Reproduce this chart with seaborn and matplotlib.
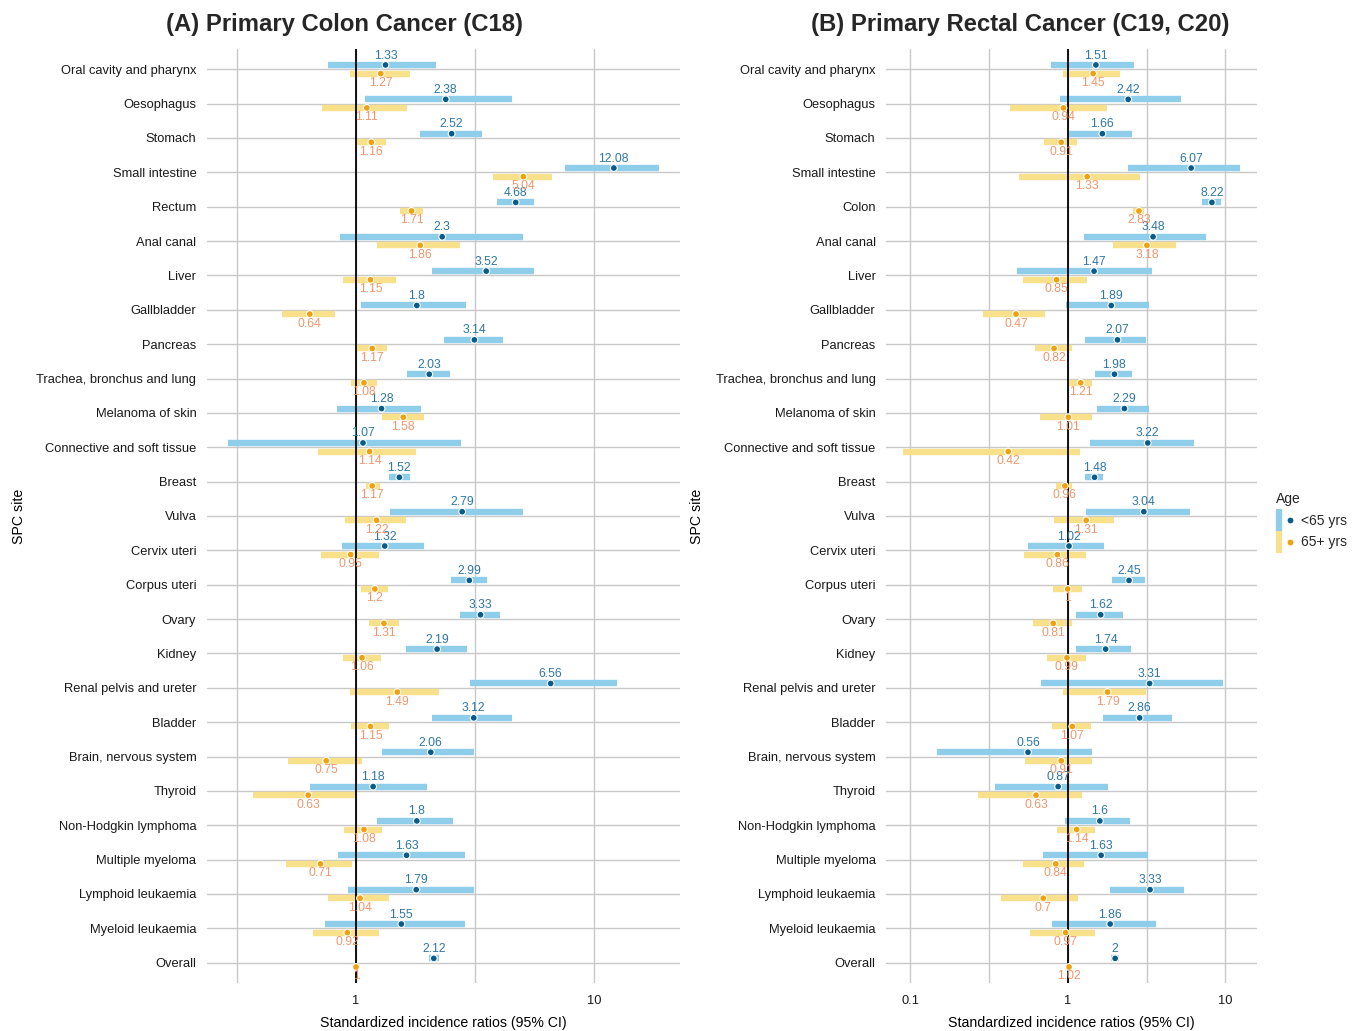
import numpy as np
import pandas as pd
import matplotlib
matplotlib.use('Agg')
import matplotlib.pyplot as plt
from matplotlib.lines import Line2D
from matplotlib.legend_handler import HandlerTuple
import seaborn as sns

# Sites (rows, top to bottom)
sites_colon = ['Oral cavity and pharynx', 'Oesophagus', 'Stomach', 'Small intestine', 'Rectum',
               'Anal canal', 'Liver', 'Gallbladder', 'Pancreas', 'Trachea, bronchus and lung',
               'Melanoma of skin', 'Connective and soft tissue', 'Breast', 'Vulva', 'Cervix uteri',
               'Corpus uteri', 'Ovary', 'Kidney', 'Renal pelvis and ureter', 'Bladder',
               'Brain, nervous system', 'Thyroid', 'Non-Hodgkin lymphoma', 'Multiple myeloma',
               'Lymphoid leukaemia', 'Myeloid leukaemia', 'Overall']
sites_rectal = ['Oral cavity and pharynx', 'Oesophagus', 'Stomach', 'Small intestine', 'Colon',
                'Anal canal', 'Liver', 'Gallbladder', 'Pancreas', 'Trachea, bronchus and lung',
                'Melanoma of skin', 'Connective and soft tissue', 'Breast', 'Vulva', 'Cervix uteri',
                'Corpus uteri', 'Ovary', 'Kidney', 'Renal pelvis and ureter', 'Bladder',
                'Brain, nervous system', 'Thyroid', 'Non-Hodgkin lymphoma', 'Multiple myeloma',
                'Lymphoid leukaemia', 'Myeloid leukaemia', 'Overall']

# (A) colon, <65 yrs
colon_young_sir = [1.33, 2.38, 2.52, 12.08, 4.68, 2.3, 3.52, 1.8, 3.14, 2.03, 1.28, 1.07, 1.52, 2.79,
                   1.32, 2.99, 3.33, 2.19, 6.56, 3.12, 2.06, 1.18, 1.8, 1.63, 1.79, 1.55, 2.12]
colon_young_lo = [0.76, 1.09, 1.85, 7.53, 3.90, 0.854, 2.09, 1.05, 2.34, 1.63, 0.83, 0.291, 1.37, 1.39,
                  0.871, 2.50, 2.74, 1.62, 3.00, 2.08, 1.29, 0.641, 1.23, 0.84, 0.923, 0.741, 2.03]
colon_young_hi = [2.16, 4.52, 3.37, 18.6, 5.60, 5.02, 5.58, 2.90, 4.15, 2.49, 1.88, 2.75, 1.69, 5.00,
                  1.93, 3.56, 4.04, 2.91, 12.5, 4.52, 3.12, 1.98, 2.55, 2.86, 3.12, 2.86, 2.22]
# (A) colon, 65+ yrs
colon_old_sir = [1.27, 1.11, 1.16, 5.04, 1.71, 1.86, 1.15, 0.64, 1.17, 1.08, 1.58, 1.14, 1.17, 1.22,
                 0.95, 1.2, 1.31, 1.06, 1.49, 1.15, 0.75, 0.63, 1.08, 0.71, 1.04, 0.92, 1]
colon_old_lo = [0.94, 0.72, 1.00, 3.76, 1.53, 1.23, 0.88, 0.49, 1.01, 0.95, 1.29, 0.69, 1.10, 0.90,
                0.71, 1.05, 1.13, 0.88, 0.94, 0.95, 0.52, 0.37, 0.89, 0.51, 0.76, 0.66, 0.98]
colon_old_hi = [1.68, 1.64, 1.33, 6.62, 1.91, 2.72, 1.47, 0.82, 1.35, 1.22, 1.92, 1.79, 1.26, 1.62,
                1.25, 1.36, 1.52, 1.27, 2.23, 1.37, 1.06, 0.99, 1.29, 0.96, 1.37, 1.25, 1.02]

# (B) rectal, <65 yrs
rectal_young_sir = [1.51, 2.42, 1.66, 6.07, 8.22, 3.48, 1.47, 1.89, 2.07, 1.98, 2.29, 3.22, 1.48, 3.04,
                    1.02, 2.45, 1.62, 1.74, 3.31, 2.86, 0.56, 0.87, 1.6, 1.63, 3.33, 1.86, 2]
rectal_young_lo = [0.78, 0.89, 1.00, 2.42, 7.14, 1.27, 0.48, 0.97, 1.29, 1.50, 1.53, 1.38, 1.29, 1.31,
                   0.56, 1.91, 1.13, 1.13, 0.68, 1.67, 0.149, 0.347, 0.96, 0.70, 1.85, 0.80, 1.89]
rectal_young_hi = [2.63, 5.25, 2.56, 12.4, 9.34, 7.54, 3.42, 3.28, 3.12, 2.56, 3.26, 6.32, 1.68, 5.97,
                   1.71, 3.08, 2.25, 2.53, 9.66, 4.59, 1.43, 1.79, 2.48, 3.22, 5.47, 3.65, 2.11]
# (B) rectal, 65+ yrs
rectal_old_sir = [1.45, 0.94, 0.91, 1.33, 2.83, 3.18, 0.85, 0.47, 0.82, 1.21, 1.01, 0.42, 0.96, 1.31,
                  0.86, 1, 0.81, 0.99, 1.79, 1.07, 0.91, 0.63, 1.14, 0.84, 0.7, 0.97, 1.02]
rectal_old_lo = [0.93, 0.43, 0.71, 0.49, 2.59, 1.93, 0.52, 0.29, 0.62, 1.00, 0.67, 0.09, 0.84, 0.82,
                 0.53, 0.81, 0.60, 0.74, 0.93, 0.79, 0.54, 0.27, 0.86, 0.52, 0.38, 0.58, 0.99]
rectal_old_hi = [2.15, 1.78, 1.15, 2.87, 3.06, 4.88, 1.32, 0.72, 1.06, 1.43, 1.43, 1.20, 1.07, 1.97,
                 1.31, 1.23, 1.07, 1.30, 3.12, 1.41, 1.43, 1.23, 1.49, 1.27, 1.16, 1.50, 1.05]

age_groups = ['<65 yrs', '65+ yrs']

# Style
bar_colors = {'<65 yrs': '#8FCEEB', '65+ yrs': '#F9E08A'}
dot_colors = {'<65 yrs': '#0A5A8A', '65+ yrs': '#F0A010'}
text_colors = {'<65 yrs': '#2E77A6', '65+ yrs': '#F0976E'}
offsets = {'<65 yrs': -0.125, '65+ yrs': 0.125}
label_offsets = {'<65 yrs': -0.40, '65+ yrs': 0.40}

sns.set_style('whitegrid')
plt.rcParams['font.family'] = ['Liberation Sans', 'DejaVu Sans']


def build_frame(sites, young, old):
    rows = []
    for age, (sir, lo, hi) in zip(age_groups, [young, old]):
        for i, site in enumerate(sites):
            rows.append({'site': site, 'row': i, 'age': age,
                         'sir': sir[i], 'lo': lo[i], 'hi': hi[i]})
    df = pd.DataFrame(rows)
    df['ypos'] = df['row'] + df['age'].map(offsets)
    return df


def draw_panel(ax, df, sites):
    # CI bars
    for age in age_groups:
        sub = df[df['age'] == age]
        ax.hlines(sub['ypos'], sub['lo'], sub['hi'], colors=bar_colors[age],
                  linewidth=4.6, capstyle='butt', zorder=2)
    ax.set_xscale('log')
    ax.axvline(1, color='black', linewidth=1.3, zorder=2.5)
    sns.scatterplot(data=df, x='sir', y='ypos', hue='age', palette=dot_colors,
                    s=24, edgecolor='white', linewidth=0.8, legend=False, ax=ax, zorder=3)
    # value labels
    for _, r in df.iterrows():
        ax.text(r['sir'], r['row'] + label_offsets[r['age']], f"{r['sir']:g}",
                ha='center', va='center', fontsize=8.7, color=text_colors[r['age']], zorder=4)

    ax.set_yticks(range(len(sites)))
    ax.set_yticklabels(sites)
    ax.set_ylim(len(sites) - 1 + 0.59, -0.59)
    ax.margins(x=0.05)

    ax.xaxis.set_major_locator(matplotlib.ticker.LogLocator(base=10, numticks=10))
    ax.xaxis.set_minor_locator(matplotlib.ticker.FixedLocator(10.0 ** np.array([-1.5, -0.5, 0.5, 1.5])))
    ax.xaxis.set_major_formatter(matplotlib.ticker.FuncFormatter(lambda v, p: f"{v:g}"))
    ax.xaxis.set_minor_formatter(matplotlib.ticker.NullFormatter())
    ax.grid(True, which='both', axis='x', color='#C8C8C8', linewidth=1.0)
    ax.grid(True, which='major', axis='y', color='#C8C8C8', linewidth=1.0)
    ax.set_axisbelow(True)
    ax.tick_params(axis='both', which='major', length=2.5, width=0.7, color='#C8C8C8',
                   labelsize=9.3, labelcolor='#1A1A1A')
    ax.tick_params(axis='x', which='minor', length=0)
    ax.tick_params(axis='y', pad=5)
    ax.tick_params(axis='x', pad=6)
    for s in ax.spines.values():
        s.set_visible(False)
    ax.set_xlabel('Standardized incidence ratios (95% CI)', fontsize=10.2, color='black')
    ax.set_ylabel('SPC site', fontsize=10.2, color='black')


fig = plt.figure(figsize=(13.53, 10.31), dpi=100)
ax1 = fig.add_axes([0.1528, 0.0466, 0.3498, 0.9059])
ax2 = fig.add_axes([0.6548, 0.0466, 0.2742, 0.9059])

draw_panel(ax1, build_frame(sites_colon, (colon_young_sir, colon_young_lo, colon_young_hi),
                            (colon_old_sir, colon_old_lo, colon_old_hi)), sites_colon)
draw_panel(ax2, build_frame(sites_rectal, (rectal_young_sir, rectal_young_lo, rectal_young_hi),
                            (rectal_old_sir, rectal_old_lo, rectal_old_hi)), sites_rectal)

ax1.yaxis.set_label_coords(-0.382, 0.5)
ax2.yaxis.set_label_coords(-0.491, 0.5)
ax1.xaxis.set_label_coords(0.5, -0.0350)
ax2.xaxis.set_label_coords(0.5, -0.0350)

fig.text(345 / 1353, 1 - 24 / 1031, '(A) Primary Colon Cancer (C18)', ha='center', va='center',
         fontsize=17.2, fontweight='bold')
fig.text(1020 / 1353, 1 - 24 / 1031, '(B) Primary Rectal Cancer (C19, C20)', ha='center', va='center',
         fontsize=17.2, fontweight='bold')

# Legend
handles = []
for age in age_groups:
    bar = Line2D([], [], marker='|', linestyle='', markersize=16, markeredgewidth=4.5,
                 color=bar_colors[age])
    dot = Line2D([], [], marker='o', linestyle='', markersize=5, markerfacecolor=dot_colors[age],
                 markeredgecolor='white', markeredgewidth=0.8)
    handles.append((bar, dot))
leg = fig.legend(handles, age_groups, title='Age', loc='upper left',
                 bbox_to_anchor=(1265 / 1353, 1 - 481 / 1031), frameon=False,
                 handler_map={tuple: HandlerTuple(ndivide=None)}, fontsize=10,
                 title_fontsize=10, handlelength=1.2, handletextpad=0.6, labelspacing=0.55,
                 borderpad=0.3)
leg._legend_box.align = 'left'

fig.savefig('out.png', dpi=100)
